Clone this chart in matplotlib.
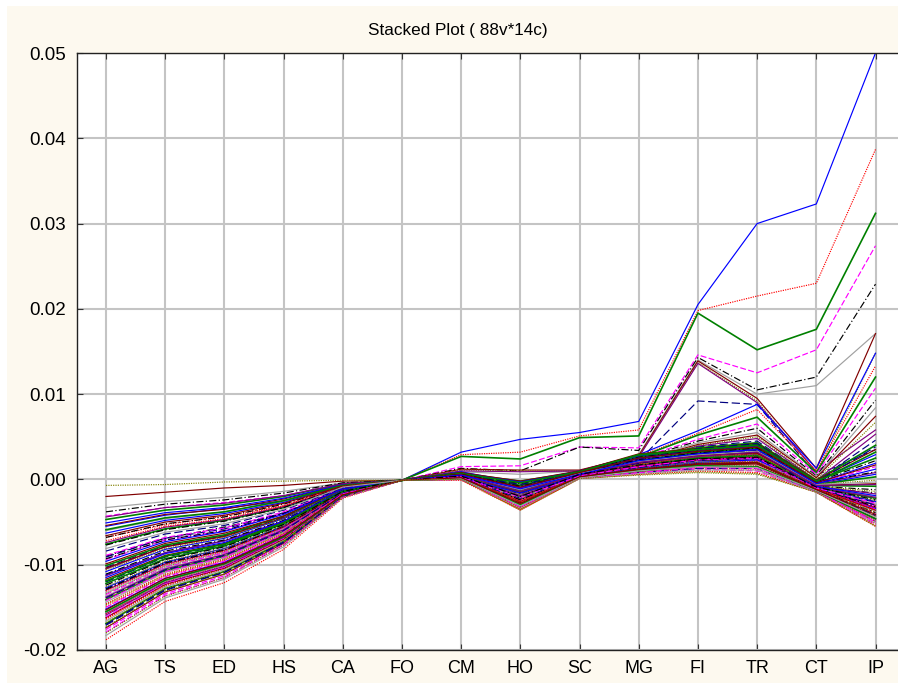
import numpy as np
import matplotlib.pyplot as plt
from matplotlib.patches import Rectangle
from matplotlib.ticker import FormatStrFormatter

plt.rcParams['font.family'] = ['Liberation Sans', 'DejaVu Sans']
plt.rcParams['axes.unicode_minus'] = False

# variables (columns)
categories = ['AG', 'TS', 'ED', 'HS', 'CA', 'FO', 'CM', 'HO', 'SC', 'MG', 'FI', 'TR', 'CT', 'IP']

# values, in units of 0.001
# the cases that stand out on the right side
upper_cases = [
    [-5.5, -4.2, -3.4, -2.5, -0.6, -0.1, 3.2, 4.7, 5.5, 6.8, 20.5, 30.0, 32.3, 50.0],
    [-6.8, -5.3, -4.3, -3.1, -0.8, -0.1, 2.9, 3.2, 5.1, 5.8, 19.8, 21.5, 23.0, 38.7],
    [-7.6, -5.8, -4.8, -3.3, -0.9, -0.1, 2.7, 2.4, 4.9, 5.1, 19.5, 15.2, 17.6, 31.2],
    [-4.3, -3.3, -2.7, -1.9, -0.5, -0.1, 1.5, 1.6, 3.8, 3.7, 14.6, 12.5, 15.2, 27.4],
    [-9.0, -6.9, -5.6, -4.0, -1.0, -0.1, 1.3, 1.0, 3.8, 3.4, 14.3, 10.5, 12.0, 22.9],
    [-3.3, -2.6, -2.1, -1.4, -0.4, -0.1, 0.9, 0.6, 1.0, 2.9, 14.0, 10.0, 11.0, 17.1],
    [-2.0, -1.5, -1.0, -0.7, -0.2, -0.1, 1.2, 1.1, 1.1, 2.8, 13.9, 9.5, 1.3, 17.1],
    [-0.7, -0.6, -0.3, -0.2, -0.1, -0.1, 1.1, 1.0, 1.0, 2.7, 13.7, 9.2, 0.8, 14.8],
    [-10.5, -7.9, -6.6, -4.6, -1.2, -0.1, 1.0, 0.9, 1.0, 2.6, 13.6, 9.0, 0.9, 5.8],
    [-12.0, -9.0, -7.6, -5.2, -1.4, -0.1, 0.5, -0.5, 0.8, 2.2, 9.2, 8.8, 0.5, 3.5],
    [-11.2, -8.6, -7.2, -4.9, -1.3, -0.1, 0.9, -0.4, 1.0, 2.9, 5.7, 8.8, 1.3, 14.8],
    [-16.3, -12.4, -10.4, -7.0, -1.9, -0.1, 0.8, -1.0, 0.9, 2.7, 5.4, 8.2, 1.0, 13.3],
    [-14.1, -10.7, -9.0, -6.1, -1.6, -0.1, 0.8, -1.3, 0.9, 2.6, 5.2, 7.3, 0.8, 12.0],
    [-9.4, -7.1, -6.0, -4.0, -1.1, -0.1, 0.7, -0.8, 0.8, 2.5, 4.7, 6.5, 0.6, 10.7],
    [-12.8, -9.7, -8.2, -5.5, -1.5, -0.1, 0.7, -1.6, 0.8, 2.4, 4.5, 6.0, 0.4, 9.3],
    [-6.0, -4.6, -3.8, -2.6, -0.7, -0.1, 0.6, -0.5, 0.7, 2.3, 4.3, 5.5, 0.3, 8.4],
    [-17.4, -13.2, -11.1, -7.5, -2.0, -0.1, 0.6, -2.0, 0.7, 2.2, 4.1, 5.2, 0.2, 7.4],
    [-13.4, -10.2, -8.6, -5.8, -1.5, -0.1, 0.5, -1.1, 0.7, 2.1, 4.0, 5.0, 0.0, 6.7],
    [-15.7, -11.9, -10.0, -6.8, -1.8, -0.1, 0.5, -2.4, 0.6, 2.1, 3.9, 4.8, -0.1, 5.3],
    [-10.3, -7.8, -6.6, -4.4, -1.2, -0.1, 0.4, -1.8, 0.6, 2.0, 3.8, 4.5, -0.2, 4.6],
]

# the dense bundle
bulk_cases = [
    [-15.2, -11.6, -9.7, -6.5, -1.7, -0.1, 0.3, -1.8, 0.5, 1.6, 2.4, 2.9, -0.9, -2.6],
    [-8.4, -6.4, -5.4, -3.6, -1.0, -0.1, 0.6, -0.6, 0.8, 2.4, 3.6, 4.2, -0.3, 3.8],
    [-12.7, -9.7, -8.1, -5.5, -1.5, -0.1, 0.1, -2.5, 0.3, 1.1, 1.8, 2.0, -1.1, -3.4],
    [-17.1, -13.0, -10.9, -7.4, -2.0, -0.1, 0.4, -3.1, 0.6, 1.9, 2.9, 3.4, -1.2, -4.2],
    [-5.1, -3.9, -3.3, -2.2, -0.6, -0.1, 0.7, -0.3, 0.9, 2.7, 3.4, 4.0, -0.2, 2.9],
    [-13.9, -10.6, -8.9, -6.0, -1.6, -0.1, 0.2, -2.2, 0.4, 1.4, 2.2, 2.5, -1.0, -3.0],
    [-10.8, -8.2, -6.9, -4.6, -1.2, -0.1, 0.5, -1.3, 0.7, 2.1, 3.1, 3.6, -0.6, 0.6],
    [-16.4, -12.5, -10.5, -7.1, -1.9, -0.1, 0.0, -3.5, 0.2, 0.8, 1.3, 1.2, -1.4, -5.2],
    [-6.3, -4.8, -4.0, -2.7, -0.7, -0.1, 0.6, -0.9, 0.8, 2.5, 3.3, 3.9, -0.4, 1.9],
    [-14.6, -11.1, -9.3, -6.3, -1.7, -0.1, 0.3, -2.7, 0.5, 1.7, 2.6, 3.0, -1.2, -3.8],
    [-11.5, -8.7, -7.4, -4.9, -1.3, -0.1, 0.2, -1.6, 0.4, 1.3, 2.0, 2.3, -0.8, -1.9],
    [-18.8, -14.3, -12.1, -8.2, -2.2, -0.1, -0.1, -3.6, 0.1, 0.6, 1.0, 0.8, -1.5, -5.5],
    [-9.6, -7.3, -6.1, -4.1, -1.1, -0.1, 0.5, -1.1, 0.6, 2.2, 3.0, 3.5, -0.5, 1.2],
    [-15.8, -12.0, -10.1, -6.8, -1.8, -0.1, 0.3, -2.9, 0.5, 1.8, 2.7, 3.1, -1.3, -4.5],
    [-4.7, -3.6, -3.0, -2.0, -0.5, -0.1, 0.7, -0.2, 0.9, 2.8, 3.7, 4.3, -0.1, 4.0],
    [-13.1, -10.0, -8.4, -5.6, -1.5, -0.1, 0.2, -2.4, 0.3, 1.2, 1.9, 2.1, -1.0, -3.3],
    [-16.9, -12.8, -10.8, -7.3, -1.9, -0.1, 0.4, -1.5, 0.6, 2.0, 2.8, 3.2, -0.7, -0.8],
    [-7.2, -5.5, -4.6, -3.1, -0.8, -0.1, 0.1, -3.3, 0.2, 0.9, 1.5, 1.6, -1.4, -4.9],
    [-12.2, -9.3, -7.8, -5.2, -1.4, -0.1, 0.6, -0.7, 0.8, 2.6, 3.5, 4.1, -0.3, 3.2],
    [-14.9, -11.3, -9.5, -6.4, -1.7, -0.1, 0.3, -2.6, 0.4, 1.5, 2.3, 2.6, -1.1, -3.6],
    [-10.1, -7.7, -6.5, -4.3, -1.2, -0.1, 0.4, -2.0, 0.5, 1.6, 2.5, 2.8, -0.9, -2.2],
    [-17.6, -13.4, -11.3, -7.6, -2.0, -0.1, 0.0, -3.4, 0.1, 0.7, 1.2, 1.0, -1.5, -5.3],
    [-5.9, -4.5, -3.8, -2.5, -0.7, -0.1, 0.5, -1.4, 0.7, 2.2, 3.2, 3.7, -0.6, 0.3],
    [-13.5, -10.3, -8.6, -5.8, -1.6, -0.1, 0.2, -2.8, 0.4, 1.6, 2.6, 2.9, -1.2, -4.0],
    [-15.5, -11.8, -9.9, -6.7, -1.8, -0.1, 0.7, -0.4, 0.9, 2.9, 3.5, 4.0, -0.2, 2.5],
    [-8.9, -6.8, -5.7, -3.8, -1.0, -0.1, 0.3, -2.3, 0.5, 1.4, 2.1, 2.4, -1.0, -3.1],
    [-11.9, -9.0, -7.6, -5.1, -1.4, -0.1, 0.1, -3.0, 0.3, 1.0, 1.6, 1.5, -1.3, -4.6],
    [-16.1, -12.2, -10.3, -6.9, -1.9, -0.1, 0.6, -1.0, 0.8, 2.4, 3.2, 3.8, -0.5, 1.5],
    [-6.8, -5.2, -4.4, -2.9, -0.8, -0.1, 0.4, -1.9, 0.6, 1.8, 2.7, 3.0, -0.9, -1.6],
    [-14.2, -10.8, -9.1, -6.1, -1.6, -0.1, 0.2, -2.6, 0.3, 1.3, 2.0, 2.2, -1.1, -3.5],
    [-12.9, -9.8, -8.3, -5.5, -1.5, -0.1, 0.5, -1.7, 0.6, 1.9, 2.5, 2.7, -0.8, -1.2],
    [-17.9, -13.6, -11.5, -7.7, -2.1, -0.1, 0.0, -3.2, 0.2, 0.8, 1.4, 1.3, -1.4, -5.0],
    [-9.3, -7.1, -6.0, -4.0, -1.1, -0.1, 0.7, -0.5, 0.9, 2.6, 3.4, 4.0, -0.3, 2.2],
    [-15.0, -11.4, -9.6, -6.5, -1.7, -0.1, 0.3, -2.1, 0.4, 1.5, 2.3, 2.5, -1.0, -2.8],
    [-3.8, -2.9, -2.4, -1.6, -0.4, -0.1, 0.2, -2.7, 0.4, 1.4, 2.2, 2.3, -1.2, -3.9],
    [-13.3, -10.1, -8.5, -5.7, -1.5, -0.1, 0.4, -1.8, 0.5, 1.7, 2.6, 2.8, -0.8, -2.0],
    [-11.1, -8.4, -7.1, -4.8, -1.3, -0.1, 0.3, -2.4, 0.5, 1.5, 2.4, 2.6, -1.0, -3.2],
    [-16.6, -12.6, -10.6, -7.1, -1.9, -0.1, 0.1, -3.4, 0.2, 0.9, 1.4, 1.4, -1.4, -5.1],
    [-7.7, -5.9, -4.9, -3.3, -0.9, -0.1, 0.6, -0.8, 0.7, 2.3, 3.1, 3.7, -0.4, 0.9],
    [-14.4, -10.9, -9.2, -6.2, -1.7, -0.1, 0.3, -2.5, 0.4, 1.6, 2.5, 2.7, -1.1, -3.7],
    [-12.4, -9.4, -7.9, -5.3, -1.4, -0.1, 0.4, -2.0, 0.6, 1.7, 2.4, 2.6, -0.9, -2.4],
    [-18.3, -13.9, -11.7, -7.9, -2.1, -0.1, 0.0, -3.3, 0.1, 0.7, 1.1, 1.1, -1.5, -4.8],
    [-10.4, -7.9, -6.7, -4.5, -1.2, -0.1, 0.8, -0.2, 1.0, 3.0, 3.6, 4.2, -0.1, 3.5],
    [-15.6, -11.9, -10.0, -6.7, -1.8, -0.1, 0.2, -2.2, 0.4, 1.3, 2.1, 2.3, -1.0, -2.9],
    [-5.4, -4.1, -3.5, -2.3, -0.6, -0.1, 0.1, -2.9, 0.3, 1.1, 1.7, 1.8, -1.3, -4.3],
    [-13.7, -10.4, -8.8, -5.9, -1.6, -0.1, 0.5, -1.2, 0.7, 2.1, 2.9, 3.3, -0.6, -0.3],
    [-16.2, -12.3, -10.4, -7.0, -1.9, -0.1, 0.3, -2.3, 0.5, 1.6, 2.4, 2.5, -1.0, -3.0],
    [-8.1, -6.2, -5.2, -3.5, -0.9, -0.1, 0.1, -3.1, 0.2, 1.0, 1.5, 1.4, -1.3, -4.4],
    [-11.7, -8.9, -7.5, -5.0, -1.3, -0.1, 0.5, -1.5, 0.6, 2.0, 2.8, 3.1, -0.7, -0.5],
    [-14.0, -10.6, -9.0, -6.0, -1.6, -0.1, 0.3, -2.1, 0.4, 1.5, 2.2, 2.4, -0.9, -2.5],
    [-9.9, -7.5, -6.3, -4.3, -1.1, -0.1, 0.2, -2.6, 0.3, 1.2, 1.9, 2.0, -1.1, -3.6],
    [-17.3, -13.1, -11.1, -7.4, -2.0, -0.1, 0.0, -3.5, 0.1, 0.6, 0.9, 0.7, -1.5, -5.4],
    [-6.6, -5.0, -4.2, -2.8, -0.8, -0.1, 0.6, -0.9, 0.8, 2.5, 3.3, 3.8, -0.4, 1.7],
    [-12.6, -9.6, -8.1, -5.4, -1.4, -0.1, 0.3, -2.0, 0.5, 1.6, 2.5, 2.7, -0.9, -2.3],
    [-15.3, -11.6, -9.8, -6.6, -1.8, -0.1, 0.2, -2.8, 0.3, 1.2, 1.8, 1.9, -1.2, -4.1],
    [-10.6, -8.1, -6.8, -4.6, -1.2, -0.1, 0.4, -1.7, 0.6, 1.8, 2.7, 2.9, -0.8, -1.4],
    [-13.0, -9.9, -8.3, -5.6, -1.5, -0.1, 0.1, -3.0, 0.2, 0.9, 1.5, 1.5, -1.3, -4.7],
    [-16.8, -12.8, -10.8, -7.2, -1.9, -0.1, 0.5, -1.3, 0.7, 2.1, 2.9, 3.4, -0.6, -0.1],
    [-7.4, -5.6, -4.7, -3.2, -0.9, -0.1, 0.3, -2.4, 0.4, 1.4, 2.2, 2.4, -1.0, -3.3],
    [-14.7, -11.2, -9.4, -6.3, -1.7, -0.1, 0.2, -2.7, 0.3, 1.3, 2.0, 2.1, -1.2, -3.9],
    [-11.3, -8.6, -7.2, -4.9, -1.3, -0.1, 0.4, -1.6, 0.5, 1.9, 2.6, 2.9, -0.8, -1.7],
    [-18.0, -13.7, -11.5, -7.7, -2.1, -0.1, 0.0, -3.6, 0.1, 0.5, 0.8, 0.6, -1.5, -5.5],
    [-4.4, -3.3, -2.8, -1.9, -0.5, -0.1, 0.6, -1.0, 0.8, 2.3, 3.0, 3.5, -0.5, 0.8],
    [-12.0, -9.1, -7.7, -5.2, -1.4, -0.1, 0.2, -2.5, 0.4, 1.4, 2.1, 2.2, -1.1, -3.4],
    [-15.9, -12.1, -10.2, -6.8, -1.8, -0.1, 0.3, -1.9, 0.5, 1.6, 2.3, 2.6, -0.9, -2.1],
    [-9.1, -6.9, -5.8, -3.9, -1.0, -0.1, 0.1, -3.2, 0.2, 0.8, 1.3, 1.3, -1.4, -4.9],
    [-13.8, -10.5, -8.8, -5.9, -1.6, -0.1, 0.5, -1.4, 0.6, 2.0, 2.7, 3.2, -0.7, -0.6],
    [-17.0, -12.9, -10.9, -7.3, -1.9, -0.1, 0.3, -2.2, 0.4, 1.5, 2.3, 2.5, -1.0, -2.7],
]

# line colours and patterns cycle in this order
line_colors = ['#0000ff', '#ff0000', '#008000', '#ff00ff', '#000000',
               '#a0a0a0', '#800000', '#808000', '#800080', '#000080']
line_styles = ['-', (0, (1, 1)), '-', (0, (5, 2)), (0, (6, 2, 1, 2)),
               '-', '-', (0, (1, 1)), '-', (0, (7, 3))]

# draw the bundle in a mixed order so colours do not line up with values
n_bulk = len(bulk_cases)
bulk_order = [(7 * j) % n_bulk for j in range(n_bulk)]
cases = np.array(upper_cases + [bulk_cases[j] for j in bulk_order]) * 0.001
x = np.arange(len(categories))

fig = plt.figure(figsize=(8.98, 6.83), dpi=100, facecolor='white')
fig.patches.append(Rectangle((7 / 898, 0), 1, 1 - 6 / 683, transform=fig.transFigure,
                             facecolor='#fdf9ef', edgecolor='none', zorder=-10))
ax = fig.add_axes([77 / 898, 1 - 650 / 683, 1 - 77 / 898, (650 - 53) / 683])
ax.set_facecolor('white')

for i, row in enumerate(cases):
    k = i % len(line_colors)
    lw = 1.2 if k == 2 else 0.85
    ax.plot(x, row, color=line_colors[k], linestyle=line_styles[k], linewidth=lw)

ax.set_xlim(-0.49, 13.38)
ax.set_ylim(-0.02, 0.05)
ax.set_xticks(x)
ax.set_xticklabels(categories)
ax.set_yticks(np.arange(-0.02, 0.0501, 0.01))
ax.yaxis.set_major_formatter(FormatStrFormatter('%.2f'))
ax.grid(True, color='#c4c4c4', linewidth=1.5)
ax.set_axisbelow(True)

ax.tick_params(axis='x', direction='in', length=4, top=True, bottom=True,
               labelsize=13, pad=7, color='#333333')
ax.tick_params(axis='y', direction='in', length=4, labelsize=13.5, pad=8, color='#333333')
for side in ['left', 'bottom', 'top']:
    ax.spines[side].set_color('#222222')
    ax.spines[side].set_linewidth(1.0)
ax.spines['right'].set_visible(False)

fig.text(458 / 898, 1 - 30 / 683, 'Stacked Plot ( 88v*14c)', ha='center', va='center',
         fontsize=12.3)

fig.savefig('out.png', dpi=100, facecolor=fig.get_facecolor())
